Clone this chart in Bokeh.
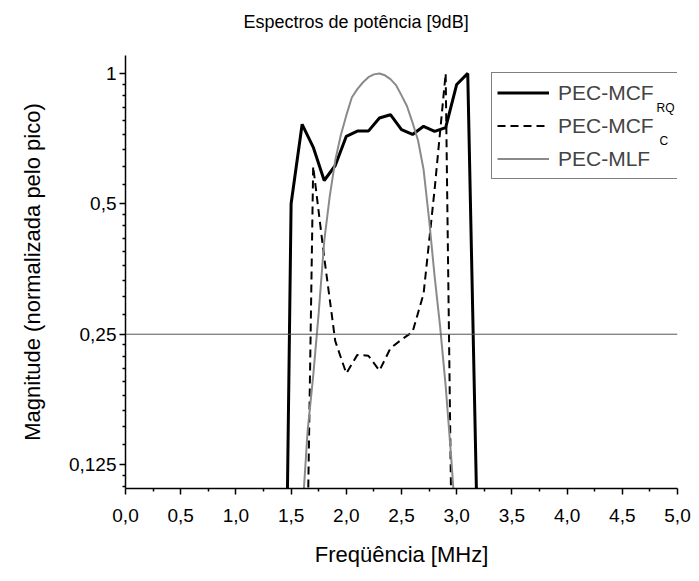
from bokeh.plotting import figure
from bokeh.models import Range1d, FixedTicker, Legend, LegendItem, Label, Span
from bokeh.embed import file_html
from bokeh.resources import INLINE

# ---- data ----
freq_rq = [1.4, 1.5, 1.6, 1.7, 1.8, 1.9, 2.0, 2.1, 2.2, 2.3, 2.4, 2.5, 2.6, 2.7, 2.8, 2.9, 3.0, 3.1, 3.2]
mag_rq = [0.005, 0.5, 0.763, 0.676, 0.566, 0.613, 0.716, 0.736, 0.736, 0.789, 0.803, 0.742, 0.723, 0.755, 0.735, 0.75, 0.943, 1.0, 0.06]

freq_c = [1.6, 1.7, 1.8, 1.9, 2.0, 2.1, 2.2, 2.3, 2.4, 2.5, 2.6, 2.7, 2.8, 2.9, 3.0]
mag_c = [0.013, 0.61, 0.376, 0.241, 0.203, 0.224, 0.223, 0.206, 0.232, 0.243, 0.253, 0.31, 0.54, 1.0, 0.01]

freq_mlf = [1.6, 1.65, 1.7, 1.75, 1.8, 1.85, 1.9, 1.95, 2.0, 2.05, 2.1, 2.15, 2.2, 2.25, 2.3,
            2.35, 2.4, 2.45, 2.5, 2.55, 2.6, 2.65, 2.7, 2.75, 2.8, 2.85, 2.9, 2.95, 3.0]
mag_mlf = [0.095, 0.15, 0.20, 0.28, 0.41, 0.52, 0.63, 0.72, 0.80, 0.88, 0.92, 0.953, 0.98, 0.995, 1.0,
           0.99, 0.97, 0.94, 0.89, 0.84, 0.77, 0.70, 0.60, 0.46, 0.34, 0.26, 0.19, 0.13, 0.085]

ref_level = 0.25

x_ticks = [0.0, 0.5, 1.0, 1.5, 2.0, 2.5, 3.0, 3.5, 4.0, 4.5, 5.0]
x_tick_labels = ["0,0", "0,5", "1,0", "1,5", "2,0", "2,5", "3,0", "3,5", "4,0", "4,5", "5,0"]
y_ticks = [0.0625, 0.125, 0.25, 0.5, 1.0]
y_tick_labels = ["0,0625", "0,125", "0,25", "0,5", "1"]

title_text = "Espectros de potência [9dB]"
series_names = ["PEC-MCF", "PEC-MCF", "PEC-MLF"]
subscripts = ["RQ", "C"]

FONT = "Liberation Sans"

p = figure(width=691, height=570, output_backend="svg", toolbar_location=None,
           y_axis_type="log",
           x_range=Range1d(0, 5), y_range=Range1d(0.1101, 1.10),
           min_border_left=125, min_border_right=14, min_border_top=55, min_border_bottom=82)

# title: a trailing empty line lifts the text to the top of the page
p.title.text = title_text + "\n"
p.title.text_font = FONT
p.title.text_font_size = "18px"
p.title.text_font_style = "normal"
p.title.align = "left"
p.title.offset = 118
p.title.standoff = 8
p.title.text_color = "black"

p.outline_line_color = None
p.xgrid.visible = False
p.ygrid.visible = False

# x axis
p.xaxis.ticker = FixedTicker(ticks=x_ticks,
                             minor_ticks=[t + 0.25 for t in x_ticks[:-1]])
p.xaxis.major_label_overrides = dict(zip(x_ticks, x_tick_labels))
p.xaxis.axis_label = "Freqüência [MHz]"

# y axis (log2)
y_minor = []
for i in range(len(y_ticks) - 1):
    lo = y_ticks[i]
    y_minor += [lo * (1 + k / 9) for k in range(1, 9)]
p.yaxis.ticker = FixedTicker(ticks=y_ticks, minor_ticks=y_minor)
p.yaxis.major_label_overrides = dict(zip(y_ticks, y_tick_labels))
p.yaxis.axis_label = "Magnitude (normalizada pelo pico)"

for ax in (p.xaxis[0], p.yaxis[0]):
    ax.axis_line_width = 1.5
    ax.axis_line_color = "black"
    ax.major_tick_line_width = 1.5
    ax.minor_tick_line_width = 1.5
    ax.major_tick_out = 6
    ax.major_tick_in = 0
    ax.minor_tick_out = 3
    ax.minor_tick_in = 0
    ax.major_label_text_font = FONT
    ax.major_label_text_font_size = "19px"
    ax.major_label_text_color = "black"
    ax.axis_label_text_font = FONT
    ax.axis_label_text_font_size = "22px"
    ax.axis_label_text_font_style = "normal"
    ax.axis_label_text_color = "black"

p.xaxis.major_label_standoff = 14
p.xaxis.axis_label_standoff = 17
p.yaxis.major_label_standoff = 3
p.yaxis.axis_label_standoff = 21

p.add_layout(Span(location=ref_level, dimension="width", line_color="#555555", line_width=1))

r_rq = p.line(freq_rq, mag_rq, line_color="black", line_width=3)
r_c = p.line(freq_c, mag_c, line_color="black", line_width=2, line_dash="8 5")
r_mlf = p.line(freq_mlf, mag_mlf, line_color="#8a8a8a", line_width=2)

legend = Legend(items=[LegendItem(label=series_names[0], renderers=[r_rq]),
                       LegendItem(label=series_names[1], renderers=[r_c]),
                       LegendItem(label=series_names[2], renderers=[r_mlf])],
                location=(366, 309), orientation="vertical",
                border_line_color="black", border_line_width=1,
                background_fill_alpha=0, padding=5, spacing=4,
                glyph_width=52, glyph_height=29, label_height=29, label_width=121,
                label_standoff=9, label_text_font=FONT, label_text_font_size="21px",
                margin=0)
p.add_layout(legend)

sub_pos = [(531, 381), (534, 348)]
for (sx, sy), s in zip(sub_pos, subscripts):
    p.add_layout(Label(x=sx, y=sy, x_units="screen", y_units="screen", text=s,
                       text_font=FONT, text_font_size="12px", text_color="black",
                       text_baseline="alphabetic", level="overlay"))

open("out.html", "w").write(file_html(p, INLINE))
